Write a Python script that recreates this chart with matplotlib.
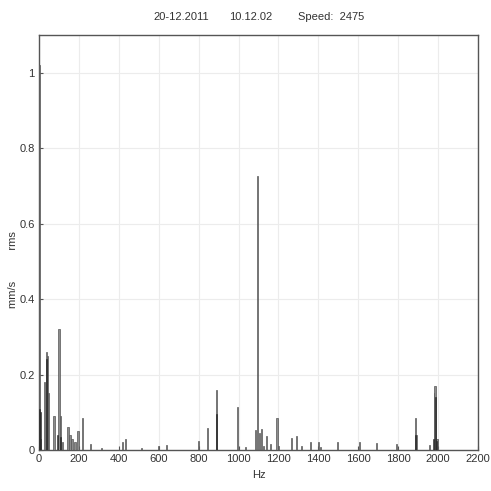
import matplotlib
matplotlib.use("Agg")
import matplotlib.pyplot as plt

plt.rcParams['font.family'] = ['Liberation Sans', 'DejaVu Sans']

# spectrum lines (Hz, mm/s rms)
freq_hz = [2, 8, 28, 36, 42, 48, 75, 100, 108, 118, 145, 155, 165, 180, 195,
           220, 260, 315, 420, 432, 515, 600, 640, 800, 845, 890, 993, 1033,
           1085, 1093, 1103, 1115, 1125, 1140, 1160, 1193, 1200, 1265, 1290,
           1315, 1360, 1400, 1410, 1495, 1605, 1690, 1793, 1885, 1893, 1955,
           1980, 1985, 1995]
amp = [1.02, 0.03, 0.18, 0.26, 0.25, 0.15, 0.09, 0.32, 0.09, 0.02, 0.06, 0.04,
       0.03, 0.02, 0.05, 0.085, 0.015, 0.005, 0.02, 0.03, 0.005, 0.01, 0.012,
       0.025, 0.058, 0.16, 0.115, 0.008, 0.053, 0.725, 0.045, 0.055, 0.01,
       0.037, 0.016, 0.085, 0.01, 0.033, 0.038, 0.01, 0.02, 0.022, 0.008,
       0.02, 0.02, 0.018, 0.015, 0.085, 0.04, 0.012, 0.15, 0.17, 0.03]

# darker overlapping lines
dark_hz = [3, 8, 40, 95, 110, 890, 1885, 1978, 1986, 1994]
dark_amp = [0.11, 0.10, 0.24, 0.04, 0.035, 0.095, 0.04, 0.03, 0.14, 0.025]

x_ticks = list(range(0, 2201, 200))
y_ticks = [0, 0.2, 0.4, 0.6, 0.8, 1]
y_tick_labels = ['0', '0.2', '0.4', '0.6', '0.8', '1']

fig = plt.figure(figsize=(4.91, 4.91), dpi=100)
ax = fig.add_axes([39 / 491, 1 - 450 / 491, 439 / 491, 415 / 491])

ax.bar(freq_hz, amp, width=6, color='#8c8c8c', edgecolor='#555555',
       linewidth=0.5, zorder=3)
ax.bar(dark_hz, dark_amp, width=5, color='#2a2a2a', edgecolor='#2a2a2a',
       linewidth=0.4, zorder=4)

ax.set_xlim(0, 2200)
ax.set_ylim(0, 1.1)
ax.set_xticks(x_ticks)
ax.set_yticks(y_ticks)
ax.set_yticklabels(y_tick_labels)
ax.grid(True, color='#ececec', linewidth=0.8, zorder=0)
ax.set_axisbelow(True)
ax.tick_params(direction='in', length=3, labelsize=8, colors='#555555',
               labelcolor='#333333', pad=3)
for s in ax.spines.values():
    s.set_color('#555555')
    s.set_linewidth(1.0)

ax.set_xlabel('Hz', fontsize=8, color='#333333', labelpad=4)
fig.text(13 / 491, 1 - 270 / 491, 'mm/s          rms', rotation=90,
         ha='center', va='center', fontsize=8, color='#333333')

fig.text(181 / 491, 1 - 17 / 491, '20-12.2011', ha='center', va='center',
         fontsize=8, color='#333333')
fig.text(251 / 491, 1 - 17 / 491, '10.12.02', ha='center', va='center',
         fontsize=8, color='#333333')
fig.text(331 / 491, 1 - 17 / 491, 'Speed:  2475', ha='center', va='center',
         fontsize=8, color='#333333')

fig.savefig('out.png', dpi=100)
